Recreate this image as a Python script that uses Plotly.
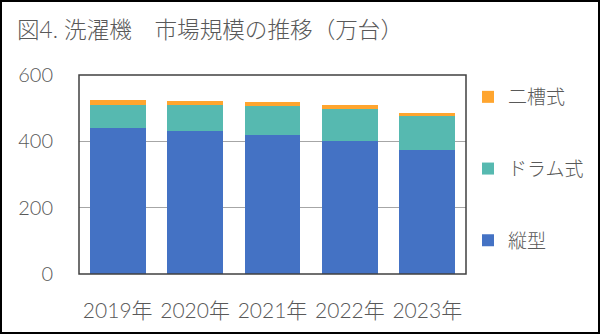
import plotly.graph_objects as go

years = ["2019年", "2020年", "2021年", "2022年", "2023年"]
tate = [441, 431, 419, 401, 374]
drum = [70, 78, 88, 95, 101]
nisou = [15, 14, 13, 13, 10]

series = [("縦型", tate, "#4472C4", 3), ("ドラム式", drum, "#56B9B0", 2), ("二槽式", nisou, "#FFA52E", 1)]

FONT = "Lato, 'Noto Sans CJK JP'"
W, H = 600, 334
ml, mr, mt, mb = 79, 134, 75, 60
pw, ph = W - ml - mr, H - mt - mb

fig = go.Figure()
for name, vals, col, rank in series:
    fig.add_trace(go.Bar(x=years, y=vals, name=name, marker_color=col,
                         marker_line_width=0, legendgroup=name, legendrank=rank))

def px(x):
    return (x - ml) / pw

def py(y):
    return (H - mb - y) / ph

fig.update_layout(
    width=W, height=H,
    barmode="stack", bargap=0.28,
    margin=dict(l=ml, r=mr, t=mt, b=mb, autoexpand=False),
    paper_bgcolor="white", plot_bgcolor="white",
    font=dict(family=FONT, color="#595959", size=19, weight=300),
    title=dict(text="図4. 洗濯機　市場規模の推移（万台）", x=17 / W, xanchor="left",
               y=1 - 30 / H, yanchor="middle",
               font=dict(size=22.6, color="#595959", family=FONT, weight=300)),
    legend=dict(x=px(468), xanchor="left", y=py(78), yanchor="top",
                traceorder="grouped", tracegroupgap=44, bgcolor="rgba(0,0,0,0)",
                font=dict(size=19, color="#595959", weight=300), itemwidth=30),
    showlegend=True,
    xaxis=dict(showgrid=False, ticks="", tickfont=dict(size=21, weight=300), showline=False,
               ticklabelstandoff=22),
    yaxis=dict(range=[0, 600], dtick=200, showgrid=True, gridcolor="#A6A6A6", gridwidth=1,
               tickfont=dict(size=20, weight=300), ticks="", showline=False, zeroline=False,
               ticklabelstandoff=25),
    shapes=[
        dict(type="rect", xref="paper", yref="paper", x0=0, x1=1, y0=0, y1=1,
             line=dict(color="#404040", width=1.5)),
        dict(type="rect", xref="paper", yref="paper", x0=px(1), x1=px(599), y0=py(333), y1=py(1),
             line=dict(color="black", width=2)),
    ],
)

fig.write_html("out.html")
